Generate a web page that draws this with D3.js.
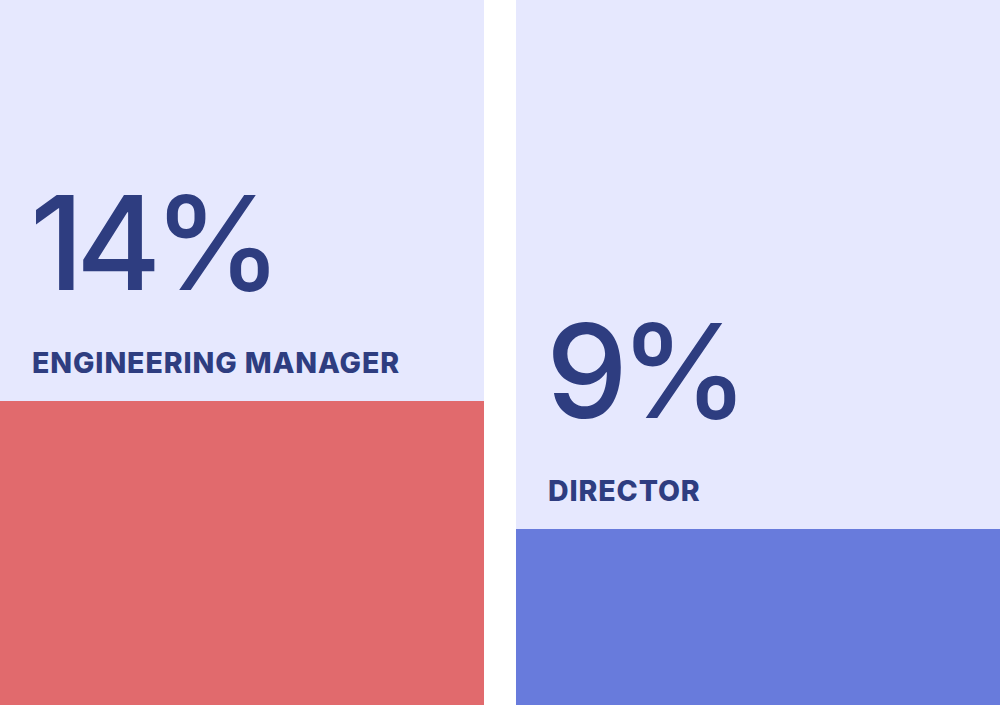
<!DOCTYPE html>
<html><head><meta charset="utf-8">
<script src="https://cdn.jsdelivr.net/npm/d3@7"></script>
<style>html,body{margin:0;padding:0;background:#fff;}svg{display:block;}</style>
</head><body>
<svg id="chart" width="1000" height="705"></svg>
<script>
const categories = ["ENGINEERING MANAGER", "DIRECTOR"];
const values = [14, 9];
const valueLabels = ["14%", "9%"];
const colors = ["#e16a6d", "#687bdc"];

const W = 1000, H = 705;
const svg = d3.select("#chart");
const x = d3.scaleBand().domain(categories).range([0, W]).paddingInner(0.062);
const y = d3.scaleLinear().domain([0, 14]).range([759.4, 401]);

const g = svg.selectAll("g.col").data(categories).join("g").attr("class", "col");
g.append("rect").attr("x", d => x(d)).attr("y", 0).attr("width", x.bandwidth()).attr("height", H).attr("fill", "#e6e8fe");
g.append("rect").attr("x", d => x(d)).attr("y", (d, i) => y(values[i])).attr("width", x.bandwidth())
  .attr("height", (d, i) => H - y(values[i])).attr("fill", (d, i) => colors[i]);
g.append("text").attr("x", d => x(d) + 32).attr("y", (d, i) => y(values[i]) - 28)
  .attr("font-family", "Inter").attr("font-weight", 800).attr("font-size", 28.5).attr("fill", "#2e3d80")
  .attr("letter-spacing", 0.9)
  .text(d => d);
g.append("text").attr("x", d => x(d) + 30).attr("y", (d, i) => y(values[i]) - 111)
  .attr("font-family", "Inter").attr("font-weight", 500).attr("font-size", 130).attr("fill", "#2e3d80")
  .attr("letter-spacing", -8)
  .text((d, i) => valueLabels[i]);
</script>
</body></html>
